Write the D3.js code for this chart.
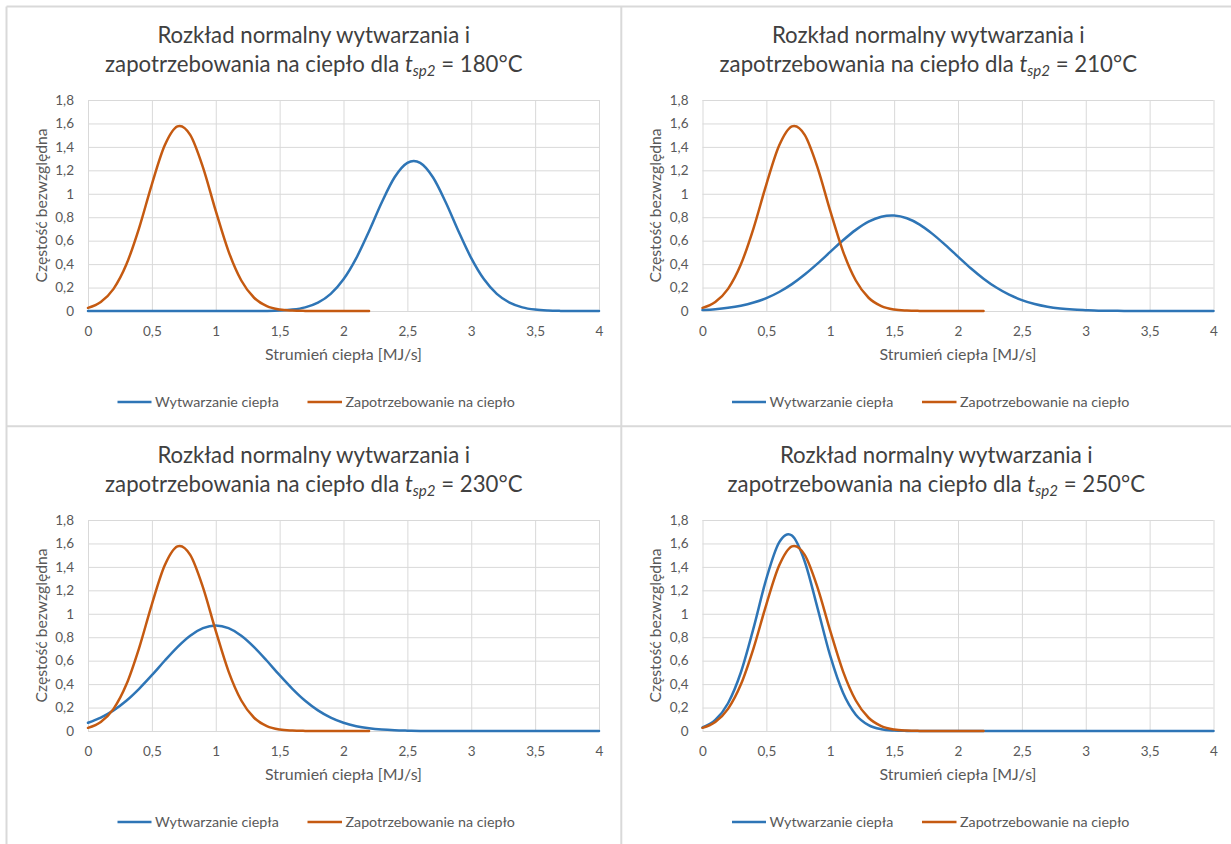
<!DOCTYPE html>
<html><head><meta charset="utf-8">
<script src="https://cdn.jsdelivr.net/npm/d3@7"></script>
<style>
body{margin:0;background:#fff}
svg{display:block}
text{font-family:Lato,"Open Sans",sans-serif}
</style>
</head><body>
<svg id="c" width="1231" height="844"></svg>
<script>
// ---------- data ----------
const xSupply = [0,0.1,0.2,0.3,0.4,0.5,0.6,0.7,0.8,0.9,1,1.1,1.2,1.3,1.4,1.5,1.6,1.7,1.8,1.9,2,2.1,2.2,2.3,2.4,2.5,2.6,2.7,2.8,2.9,3,3.1,3.2,3.3,3.4,3.5,3.6,3.7,3.8,3.9,4];
const xDemand = [0,0.1,0.2,0.3,0.4,0.5,0.6,0.7,0.8,0.9,1,1.1,1.2,1.3,1.4,1.5,1.6,1.7,1.8,1.9,2,2.1,2.2];
const demand = [0.027,0.077,0.189,0.396,0.708,1.081,1.411,1.575,1.503,1.226,0.854,0.509,0.260,0.113,0.042,0.013,0.004,0.001,0,0,0,0,0];
const supply180 = [0,0,0,0,0,0,0,0,0,0,0,0,0,0.0004,0.001,0.004,0.012,0.031,0.071,0.146,0.270,0.451,0.681,0.928,1.141,1.264,1.264,1.141,0.928,0.681,0.451,0.270,0.146,0.071,0.031,0.012,0.004,0.001,0,0,0];
const supply210 = [0.008,0.015,0.027,0.045,0.072,0.110,0.162,0.229,0.311,0.404,0.504,0.603,0.692,0.762,0.804,0.814,0.791,0.737,0.658,0.564,0.464,0.365,0.276,0.200,0.139,0.093,0.059,0.036,0.021,0.012,0.007,0.003,0.002,0.001,0,0,0,0,0,0,0];
const supply230 = [0.070,0.114,0.176,0.258,0.360,0.476,0.599,0.716,0.813,0.877,0.900,0.877,0.813,0.716,0.599,0.476,0.360,0.258,0.176,0.114,0.070,0.041,0.023,0.012,0.006,0.003,0.001,0,0,0,0,0,0,0,0,0,0,0,0,0,0];
const supply250 = [0.031,0.094,0.237,0.499,0.880,1.300,1.609,1.667,1.446,1.051,0.640,0.326,0.139,0.050,0.015,0.004,0.001,0,0,0,0,0,0,0,0,0,0,0,0,0,0,0,0,0,0,0,0,0,0,0,0];
const temperatures = ["180","210","230","250"];
const supplies = [supply180, supply210, supply230, supply250];
const xTicks = [0,0.5,1,1.5,2,2.5,3,3.5,4];
const xTickLabels = ["0","0,5","1","1,5","2","2,5","3","3,5","4"];
const yTicks = [0,0.2,0.4,0.6,0.8,1,1.2,1.4,1.6,1.8];
const yTickLabels = ["0","0,2","0,4","0,6","0,8","1","1,2","1,4","1,6","1,8"];
const seriesNames = ["Wytwarzanie ciepła","Zapotrzebowanie na ciepło"];
const titleLine1 = "Rozkład normalny wytwarzania i";
const titleLine2 = "zapotrzebowania na ciepło dla ";
const xTitle = "Strumień ciepła [MJ/s]";
const yTitle = "Częstość bezwzględna";

// ---------- style / layout ----------
const BLUE = "#2E75B6", ORANGE = "#C55A11", GRID = "#d9d9d9";
const svg = d3.select("#c");
const panels = [
  {ox:0, oy:0, tdx:0},
  {ox:614.5, oy:0, tdx:0},
  {ox:0, oy:420, tdx:0},
  {ox:614.5, oy:420, tdx:8}
];
const PL=88, PR=599, PT=100, PB=311;

// borders
const bg = svg.append("g").attr("stroke", GRID).attr("stroke-width", 2);
bg.append("line").attr("x1",6.5).attr("x2",6.5).attr("y1",6.5).attr("y2",844);
bg.append("line").attr("x1",6.5).attr("x2",1231).attr("y1",6.5).attr("y2",6.5);
bg.append("line").attr("x1",621.3).attr("x2",621.3).attr("y1",6.5).attr("y2",844);
bg.append("line").attr("x1",6.5).attr("x2",1231).attr("y1",426.2).attr("y2",426.2);

function fit(sel, target){
  const base = 20;
  sel.attr("font-size", base);
  const w = sel.node().getComputedTextLength();
  const s = base*target/w;
  sel.attr("font-size", s);
  return s;
}

// measure font sizes once
const meas = svg.append("g");
const titleSize = fit(meas.append("text").text(titleLine1), 313);
const xTitleSize = fit(meas.append("text").text(xTitle), 157);
const yTitleSize = fit(meas.append("text").text(yTitle), 154);
const legSize = fit(meas.append("text").text(seriesNames[0]), 124);
meas.remove();

const x = d3.scaleLinear().domain([0,4]).range([PL,PR]);
const y = d3.scaleLinear().domain([0,1.8]).range([PB,PT]);
const line = d3.line().x(d=>x(d[0])).y(d=>y(d[1])).curve(d3.curveCardinal.tension(0));

panels.forEach((p,i)=>{
  const g = svg.append("g").attr("transform",`translate(${p.ox},${p.oy})`);

  // title
  const t = g.append("g").attr("fill","#404040").attr("font-size",titleSize).attr("text-anchor","middle");
  const cx = 313.8 + p.tdx;
  t.append("text").attr("x",cx).attr("y",43.3).text(titleLine1);
  const l2 = t.append("text").attr("x",cx).attr("y",72);
  l2.append("tspan").text(titleLine2);
  l2.append("tspan").attr("font-style","italic").text("t");
  l2.append("tspan").attr("font-style","italic").attr("font-size",titleSize*0.68).attr("dy",4).text("sp2");
  l2.append("tspan").attr("dy",-4).text(" = " + temperatures[i] + "°C");

  // grid + axes
  const ya = g.append("g").attr("transform",`translate(${PL},0)`)
    .call(d3.axisLeft(y).tickValues(yTicks).tickSize(-(PR-PL)).tickPadding(14).tickFormat((d,k)=>yTickLabels[k]));
  const xa = g.append("g").attr("transform",`translate(0,${PB})`)
    .call(d3.axisBottom(x).tickValues(xTicks).tickSize(-(PB-PT)).tickPadding(15).tickFormat((d,k)=>xTickLabels[k]));
  [ya,xa].forEach(a=>{
    a.select(".domain").remove();
    a.selectAll(".tick line").attr("stroke",GRID).attr("stroke-width",1);
    a.selectAll(".tick text").attr("fill","#595959").attr("font-size",13.5).attr("font-family","Lato");
  });

  // axis titles
  g.append("text").attr("x",(PL+PR)/2).attr("y",360).attr("text-anchor","middle")
    .attr("fill","#595959").attr("font-size",xTitleSize).text(xTitle);
  g.append("text").attr("transform",`translate(40.5,${(PT+PB)/2}) rotate(-90)`)
    .attr("text-anchor","middle").attr("dominant-baseline","central")
    .attr("fill","#595959").attr("font-size",yTitleSize).text(yTitle);

  // series
  const sup = xSupply.map((v,k)=>[v, supplies[i][k]]);
  const dem = xDemand.map((v,k)=>[v, demand[k]]);
  g.append("path").datum(sup).attr("d",line).attr("fill","none").attr("stroke",BLUE)
    .attr("stroke-width",2.5).attr("stroke-linejoin","round").attr("stroke-linecap","round");
  g.append("path").datum(dem).attr("d",line).attr("fill","none").attr("stroke",ORANGE)
    .attr("stroke-width",2.5).attr("stroke-linejoin","round").attr("stroke-linecap","round");

  // legend
  const lg = g.append("g");
  const items = [{x0:117.5, x1:151.5, tx:155, c:BLUE},{x0:307.5, x1:342, tx:345.5, c:ORANGE}];
  items.forEach((it,k)=>{
    lg.append("line").attr("x1",it.x0).attr("x2",it.x1).attr("y1",402).attr("y2",402)
      .attr("stroke",it.c).attr("stroke-width",2.5);
    lg.append("text").attr("x",it.tx).attr("y",406.5).attr("fill","#595959")
      .attr("font-size",legSize).text(seriesNames[k]);
  });
});
</script>
</body></html>
